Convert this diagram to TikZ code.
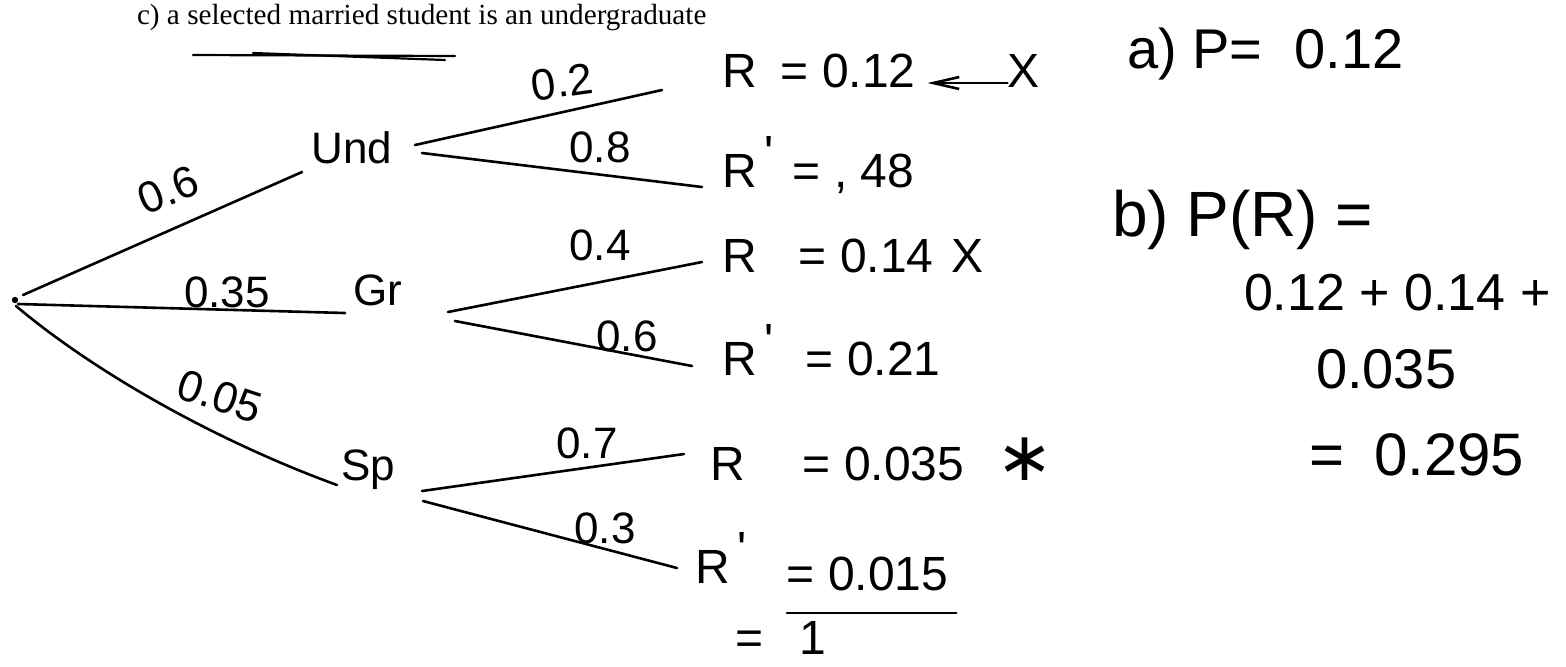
\documentclass[tikz,border=0pt]{standalone}
\usepackage{fontspec}
\setmainfont{Liberation Serif}
\newfontfamily\handfont{Liberation Sans}
\newfontfamily\symfont{DejaVu Sans}
\usetikzlibrary{positioning,arrows.meta}

\newcommand{\hw}[1]{\fontsize{#1}{#1}\selectfont\handfont}

\begin{document}
\begin{tikzpicture}[x=0.5pt,y=-0.5pt,
    every node/.style={inner sep=0pt,outer sep=0pt},
    branch/.style={line width=1.3pt,line cap=round},
    cat/.style={font=\hw{22}},
    prob/.style={font=\hw{22}},
    res/.style={font=\hw{24}},
    backarrow/.style={branch,-{Straight Barb[length=13pt,width=6pt]}}]
  \useasboundingbox (0,0) rectangle (1566,666);

  % question
  \node[anchor=base west,font=\fontsize{14.6}{16}\selectfont] (title) at (137,24) {c) a selected married student is an undergraduate};
  \draw[branch,line width=1.1pt] (193,55) -- (455,56);
  \draw[branch,line width=1.1pt] (253,53) -- (445,60);

  % tree
  \coordinate (root) at (15,300);
  \fill (root) circle (1.6pt);
  \node[cat] (und) at (352,148) {Und};
  \node[cat] (gr) at (378,290) {Gr};
  \node[cat] (sp) at (368,470) {Sp};

  \node[res,anchor=base west] (r1) at (722,87) {R};
  \node[res,anchor=base west] (r2) at (722,187) {R\raisebox{9pt}{\,\textquotesingle}};
  \node[res,anchor=base west] (r3) at (722,272) {R};
  \node[res,anchor=base west] (r4) at (722,375) {R\raisebox{9pt}{\,\textquotesingle}};
  \node[res,anchor=base west] (r5) at (710,480) {R};
  \node[res,anchor=base west] (r6) at (695,583) {R\raisebox{9pt}{\,\textquotesingle}};

  \node[res,base right=12pt of r1] (v1) {= 0.12};
  \node[res,base right=9.5pt of r2] (v2) {= , 48};
  \node[res,base right=21pt of r3] (v3) {= 0.14};
  \node[res,base right=16pt of r4] (v4) {= 0.21};
  \node[res,base right=29pt of r5] (v5) {= 0.035};
  \node[res,base right=20pt of r6,yshift=-3.5pt] (v6) {= 0.015};

  \node[res,base right=46pt of v1] (x1) {X};
  \node[res,base right=9pt of v3] (x3) {X};
  \node[font=\fontsize{34}{34}\selectfont\symfont,base right=16pt of v5] (x5) {∗};
  \draw[backarrow] ([yshift=2pt]x1.base west) -- ([shift={(6pt,2pt)}]v1.base east);

  \draw[branch] ([yshift=-11.5pt]v6.base west) -- ([shift={(4pt,-11.5pt)}]v6.base east);
  \node[res,anchor=base west] (total) at (735,654) {=\hspace{18pt}1};

  % branches
  \draw[branch] ([shift={(8,-5)}]root) -- ([shift={(-50,24)}]und.center);
  \draw[branch] ([shift={(3,4)}]root) -- ([shift={(-33,23)}]gr.center);
  \draw[branch] ([shift={(1,6)}]root) to[out=-40,in=160,looseness=0.8] ([shift={(-31,15)}]sp.center);
  \draw[branch] ([shift={(63,-3)}]und.center) -- ([shift={(-60,3)}]r1.base west);
  \draw[branch] ([shift={(70,5)}]und.center) -- ([shift={(-20,0)}]r2.base west);
  \draw[branch] ([shift={(70,22)}]gr.center) -- ([shift={(-20,-10)}]r3.base west);
  \draw[branch] ([shift={(77,31)}]gr.center) -- ([shift={(-30,-9)}]r4.base west);
  \draw[branch] ([shift={(54,21)}]sp.center) -- ([shift={(-26,-26)}]r5.base west);
  \draw[branch] ([shift={(55,31)}]sp.center) -- ([shift={(-18,-15)}]r6.base west);

  % branch probabilities
  \node[prob,rotate=22] (p-und) at (168,190) {0.6};
  \node[prob] (p-gr) at (227,292) {0.35};
  \node[prob,rotate=-18] (p-sp) at (220,396) {0.05};
  \node[prob,rotate=8] (p-r1) at (562,82) {0.2};
  \node[prob] (p-r2) at (600,147) {0.8};
  \node[prob] (p-r3) at (600,245) {0.4};
  \node[prob] (p-r4) at (627,336) {0.6};
  \node[prob] (p-r5) at (587,443) {0.7};
  \node[prob] (p-r6) at (605,528) {0.3};

  % answers
  \node[anchor=base west,font=\hw{28}] (parta) at (1127,68) {a) P=\hspace{16pt}0.12};
  \node[anchor=base west,font=\hw{32}] (partb) at (1112,236) {b) P(R) =};
  \node[anchor=base west,font=\hw{26}] (sum1) at (1244,310) {0.12 + 0.14 +};
  \node[anchor=base west,font=\hw{28}] (sum2) at (1316,388) {0.035};
  \node[anchor=base west,font=\hw{30}] (sum3) at (1309,475) {=\hspace{15pt}0.295};
\end{tikzpicture}
\end{document}
